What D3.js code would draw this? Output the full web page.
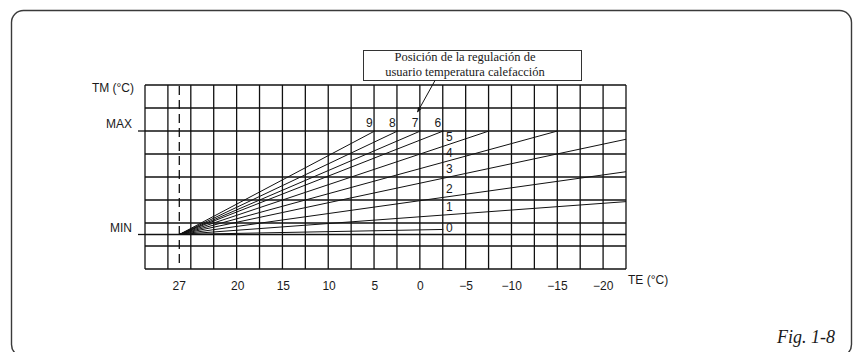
<!DOCTYPE html>
<html lang="es">
<head>
<meta charset="UTF-8">
<title>Curvas de calefacción</title>
<script src="https://d3js.org/d3.v7.min.js"></script>
<style>
  body { margin: 0; background: #fff; }
  .grid line { stroke: #111; stroke-width: 1.3px; }
  .curve { stroke: #111; stroke-width: 1px; fill: none; }
  .lbl { font-family: "Liberation Sans", Arial, sans-serif; font-size: 12px; fill: #1a1a1a; }
  .serif { font-family: "Liberation Serif", "Times New Roman", serif; fill: #1a1a1a; }
</style>
</head>
<body>
<div id="chart"></div>
<script>
// valores
const teTicks = [27, 20, 15, 10, 5, 0, -5, -10, -15, -20];
const teLabels = ["27", "20", "15", "10", "5", "0", "−5", "−10", "−15", "−20"];
const tmTicks = [6, 1.5];            // en unidades de cuadrícula
const tmLabels = ["MAX", "MIN"];
const curveNames = ["0", "1", "2", "3", "4", "5", "6", "7", "8", "9"];
const curveEndTE = [-2.5, -22.5, -22.5, -22.5, -15, -7.5, -2.5, 0, 2.5, 5];
const curveEndTM = [1.72, 2.93, 4.23, 5.64, 6, 6, 6, 6, 6, 6];
const originTE = 27, originTM = 1.5;
const nCols = 21, nRows = 8;

const width = 853, height = 352;

const svg = d3.select("#chart").append("svg")
    .attr("width", width)
    .attr("height", height);

// marco redondeado
svg.append("rect")
    .attr("x", 11.5).attr("y", 10.5)
    .attr("width", 840).attr("height", 346)
    .attr("rx", 12)
    .attr("fill", "none")
    .attr("stroke", "#3a3a3a")
    .attr("stroke-width", 1.4);

// escalas
const col = d3.scaleLinear().domain([0, nCols]).range([145, 626]);
const y = d3.scaleLinear().domain([0, nRows]).range([269, 85]);
const x = d3.scaleLinear().domain([27, 20, -22.5]).range([179.3, 237.7, 626]);

// cuadrícula
const grid = svg.append("g").attr("class", "grid");
grid.selectAll(".v").data(d3.range(nCols + 1)).enter().append("line")
    .attr("x1", d => col(d)).attr("x2", d => col(d))
    .attr("y1", y(nRows)).attr("y2", y(0));
grid.selectAll(".h").data(d3.range(nRows + 1).concat([originTM])).enter().append("line")
    .attr("x1", col(0)).attr("x2", col(nCols))
    .attr("y1", d => y(d)).attr("y2", d => y(d));
// marcas MAX / MIN
grid.selectAll(".t").data(tmTicks).enter().append("line")
    .attr("x1", col(0) - 7).attr("x2", col(0))
    .attr("y1", d => y(d)).attr("y2", d => y(d));

// línea discontinua 27 °C
svg.append("line")
    .attr("x1", x(originTE)).attr("x2", x(originTE))
    .attr("y1", y(nRows) + 1).attr("y2", y(0) - 1)
    .attr("stroke", "#111")
    .attr("stroke-width", 1.3)
    .attr("stroke-dasharray", "9,5");

// curvas
const curves = curveNames.map((n, i) => ({ name: n, te: curveEndTE[i], tm: curveEndTM[i] }));
svg.selectAll(".curve").data(curves).enter().append("line")
    .attr("class", "curve")
    .attr("x1", x(originTE)).attr("y1", y(originTM))
    .attr("x2", d => x(d.te)).attr("y2", d => y(d.tm));

// etiquetas de curvas
const labelTE = -2.8;
svg.selectAll(".cl").data(curves).enter().append("text")
    .attr("class", "lbl")
    .attr("text-anchor", d => d.tm >= 6 && d.te >= -2.5 ? "end" : "start")
    .attr("x", d => d.tm >= 6 && d.te >= -2.5 ? x(d.te) - 2 : x(labelTE))
    .attr("y", d => {
        if (d.tm >= 6 && d.te >= -2.5) return y(6) - 4;
        if (d.te >= -2.5) return y(d.tm) + 3;
        const t = (originTE - labelTE) / (originTE - d.te);
        const px = y(originTM) + t * (y(d.tm) - y(originTM));
        return px - 4;
    })
    .text(d => d.name);

// eje TE
svg.selectAll(".xt").data(teTicks).enter().append("text")
    .attr("class", "lbl")
    .attr("text-anchor", "middle")
    .attr("x", d => x(d))
    .attr("y", 289.5)
    .text((d, i) => teLabels[i]);
svg.append("text").attr("class", "lbl")
    .attr("x", 628).attr("y", 284)
    .text("TE (°C)");

// eje TM
svg.selectAll(".yt").data(tmTicks).enter().append("text")
    .attr("class", "lbl")
    .attr("text-anchor", "end")
    .attr("x", 132)
    .attr("y", d => y(d) - 3)
    .text((d, i) => tmLabels[i]);
svg.append("text").attr("class", "lbl")
    .attr("text-anchor", "end")
    .attr("x", 134).attr("y", 92)
    .text("TM (°C)");

// recuadro explicativo
svg.append("rect")
    .attr("x", 363.5).attr("y", 50.5)
    .attr("width", 218).attr("height", 30)
    .attr("fill", "#fff")
    .attr("stroke", "#333")
    .attr("stroke-width", 1);
svg.append("text").attr("class", "serif")
    .attr("text-anchor", "middle")
    .attr("x", 465).attr("y", 61)
    .style("font-size", "12.5px")
    .text("Posición de la regulación de");
svg.append("text").attr("class", "serif")
    .attr("text-anchor", "middle")
    .attr("x", 465).attr("y", 75.5)
    .style("font-size", "12.5px")
    .text("usuario temperatura calefacción");

svg.append("defs").append("marker")
    .attr("id", "arrow")
    .attr("viewBox", "0 0 10 10")
    .attr("refX", 9).attr("refY", 5)
    .attr("markerWidth", 5).attr("markerHeight", 5)
    .attr("orient", "auto")
    .append("path").attr("d", "M0,1L10,5L0,9Z").attr("fill", "#111");
svg.append("line")
    .attr("x1", 435).attr("y1", 80.5)
    .attr("x2", 417.5).attr("y2", 112)
    .attr("stroke", "#111")
    .attr("stroke-width", 1)
    .attr("marker-end", "url(#arrow)");

// pie de figura
svg.append("text").attr("class", "serif")
    .attr("text-anchor", "end")
    .attr("x", 835).attr("y", 343)
    .style("font-size", "18px")
    .style("font-style", "italic")
    .text("Fig. 1-8");
</script>
</body>
</html>
